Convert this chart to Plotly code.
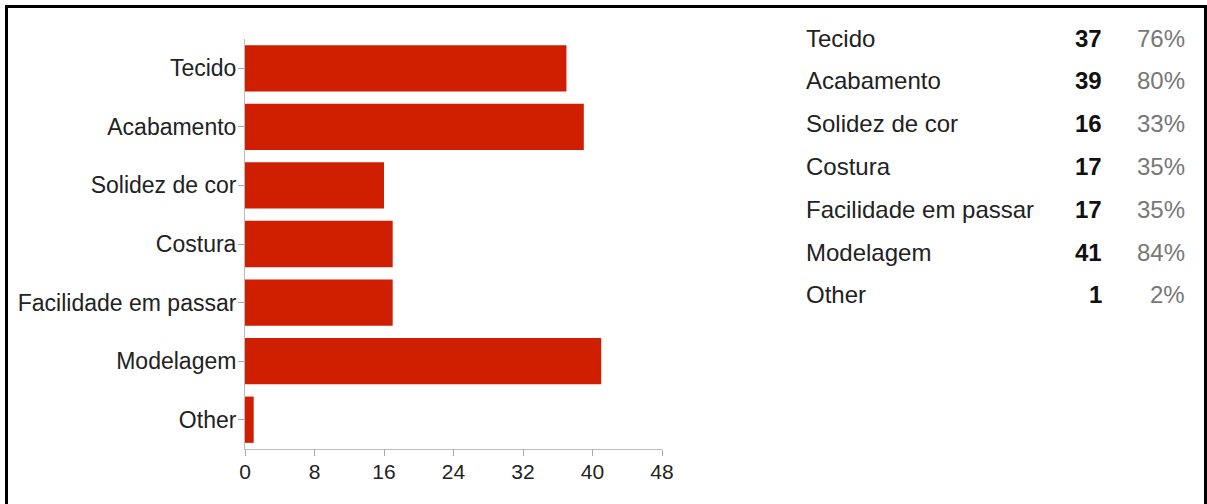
import plotly.graph_objects as go

categories = ["Tecido", "Acabamento", "Solidez de cor", "Costura",
              "Facilidade em passar", "Modelagem", "Other"]
counts = [37, 39, 16, 17, 17, 41, 1]
percents = ["76%", "80%", "33%", "35%", "35%", "84%", "2%"]
x_ticks = [0, 8, 16, 24, 32, 40, 48]

W, H = 1207, 504
ML, MR, MT, MB = 245, 545, 39, 55
PW, PH = W - ML - MR, H - MT - MB


def px_x(px):
    return (px - ML) / PW


def px_y(py):
    return (H - MB - py) / PH


fig = go.Figure()
fig.add_trace(go.Bar(
    y=categories, x=counts, orientation="h",
    marker=dict(color="#D01F00", line=dict(width=0)),
    hoverinfo="x+y",
))

fig.update_layout(
    width=W, height=H,
    margin=dict(l=ML, r=MR, t=MT, b=MB, pad=0),
    paper_bgcolor="white", plot_bgcolor="white",
    showlegend=False, bargap=0.21,
    font=dict(family="Liberation Sans, Arial, sans-serif", color="#222", size=23),
)
fig.update_yaxes(
    categoryorder="array", categoryarray=categories, autorange="reversed",
    showline=True, linecolor="#bbb", linewidth=1,
    ticks="outside", ticklen=6, tickcolor="#aaa", tickwidth=1,
    ticklabelstandoff=-3,
    showgrid=False, zeroline=False, tickfont=dict(size=23, color="#222"),
)
fig.update_xaxes(
    range=[0, 48], tickvals=x_ticks, ticktext=[str(v) for v in x_ticks],
    showline=True, linecolor="#bbb", linewidth=1,
    ticks="outside", ticklen=6, tickcolor="#aaa", tickwidth=1,
    ticklabelstandoff=-2,
    showgrid=False, zeroline=False, tickfont=dict(size=21, color="#222"),
)

# summary table on the right
row0, row_step = 38, 42.8
for i, (name, c, p) in enumerate(zip(categories, counts, percents)):
    yp = px_y(row0 + i * row_step)
    fig.add_annotation(x=px_x(804), y=yp, xref="paper", yref="paper",
                       text=name, showarrow=False, xanchor="left", yanchor="middle",
                       font=dict(size=24, color="#222"))
    fig.add_annotation(x=px_x(1104), y=yp, xref="paper", yref="paper",
                       text="<b>%d</b>" % c, showarrow=False, xanchor="right",
                       yanchor="middle", font=dict(size=24, color="#111"))
    fig.add_annotation(x=px_x(1187), y=yp, xref="paper", yref="paper",
                       text=p, showarrow=False, xanchor="right", yanchor="middle",
                       font=dict(size=24, color="#777"))

# black frame (left, top, right)
xl, xr, yt, yb = px_x(6.5), px_x(1205.5), px_y(6.5), px_y(520)
fig.add_shape(type="path", xref="paper", yref="paper",
              path=f"M {xl} {yb} L {xl} {yt} L {xr} {yt} L {xr} {yb}",
              line=dict(color="black", width=3), layer="above")

fig.write_html(
    "out.html",
    config={"displayModeBar": False},
    post_script="document.body.style.margin='0';document.body.style.overflow='hidden';",
)
